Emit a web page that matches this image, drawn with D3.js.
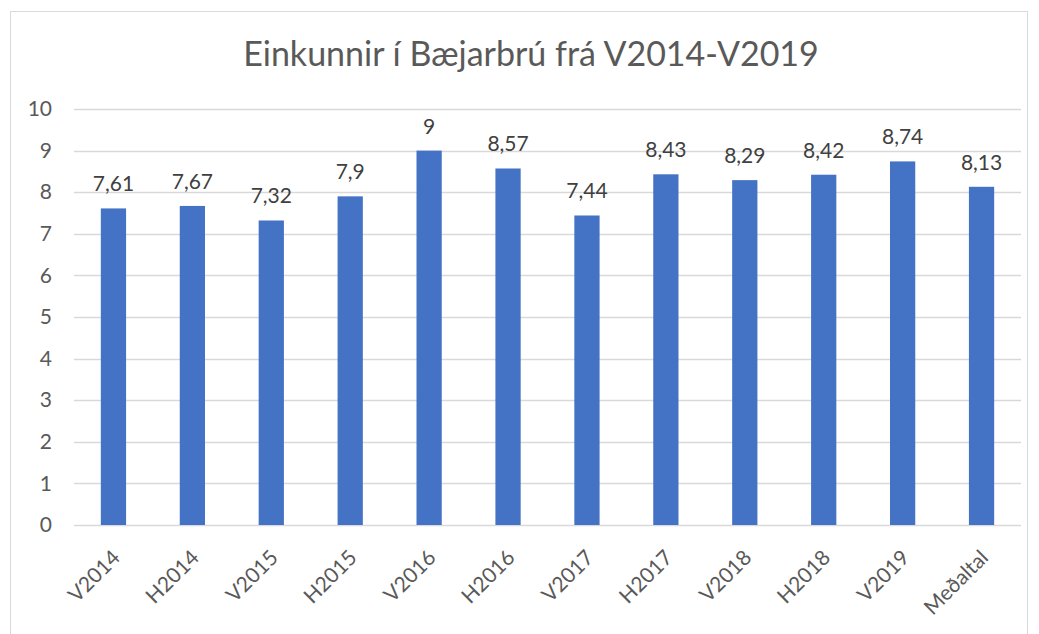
<!DOCTYPE html>
<html>
<head>
<meta charset="utf-8">
<script src="https://cdn.jsdelivr.net/npm/d3@7"></script>
<style>
  body { margin: 0; background: #fff; }
  svg { display: block; font-family: Lato, "Open Sans", sans-serif; }
</style>
</head>
<body>
<div id="chart"></div>
<script>
const categories = ["V2014", "H2014", "V2015", "H2015", "V2016", "H2016", "V2017", "H2017", "V2018", "H2018", "V2019", "Meðaltal"];
const values = [7.61, 7.67, 7.32, 7.9, 9, 8.57, 7.44, 8.43, 8.29, 8.42, 8.74, 8.13];
const y_ticks = [0, 1, 2, 3, 4, 5, 6, 7, 8, 9, 10];
const title_text = "Einkunnir í Bæjarbrú frá V2014-V2019";

const width = 1039, height = 634;
const plot = { left: 74, right: 1021, top: 109, bottom: 525 };
const font = "Lato, 'Open Sans', sans-serif";

const svg = d3.select("#chart").append("svg")
    .attr("width", width)
    .attr("height", height);

// chart frame
svg.append("rect")
    .attr("x", 10.5).attr("y", 11.5)
    .attr("width", 1017).attr("height", 640)
    .attr("fill", "#fff")
    .attr("stroke", "#d9d9d9");

svg.append("text")
    .attr("x", 531).attr("y", 66)
    .attr("text-anchor", "middle")
    .attr("font-size", 34)
    .attr("fill", "#595959")
    .text(title_text);

const x = d3.scaleBand()
    .domain(categories)
    .range([plot.left, plot.right])
    .paddingInner(0.68)
    .paddingOuter(0.34);

const y = d3.scaleLinear()
    .domain([0, 10])
    .range([plot.bottom, plot.top]);

// gridlines
svg.append("g")
    .selectAll("line")
    .data(y_ticks)
    .join("line")
    .attr("x1", plot.left).attr("x2", plot.right)
    .attr("y1", d => Math.round(y(d)) + 0.5)
    .attr("y2", d => Math.round(y(d)) + 0.5)
    .attr("stroke", "#d9d9d9")
    .attr("stroke-width", 1.3);

// y axis labels
const y_axis = svg.append("g")
    .attr("transform", `translate(${plot.left},0)`)
    .call(d3.axisLeft(y).tickValues(y_ticks).tickSize(0).tickPadding(22));
y_axis.select(".domain").remove();
y_axis.selectAll("text")
    .attr("font-size", 21)
    .attr("font-family", font)
    .attr("fill", "#595959");

// bars
svg.append("g")
    .selectAll("rect")
    .data(values)
    .join("rect")
    .attr("x", (d, i) => x(categories[i]))
    .attr("width", x.bandwidth())
    .attr("y", d => y(d))
    .attr("height", d => y(0) - y(d))
    .attr("fill", "#4472c4");

// data labels
svg.append("g")
    .selectAll("text")
    .data(values)
    .join("text")
    .attr("x", (d, i) => x(categories[i]) + x.bandwidth() / 2)
    .attr("y", d => y(d) - 17)
    .attr("text-anchor", "middle")
    .attr("font-size", 21)
    .attr("fill", "#404040")
    .text(d => String(d).replace(".", ","));

// x axis labels
const x_axis = svg.append("g")
    .attr("transform", `translate(0,${plot.bottom})`)
    .call(d3.axisBottom(x).tickSize(0).tickPadding(0));
x_axis.select(".domain").remove();
x_axis.selectAll("text")
    .attr("font-size", 21)
    .attr("font-family", font)
    .attr("fill", "#595959")
    .attr("text-anchor", "end")
    .attr("y", 0)
    .attr("dy", null)
    .attr("transform", "translate(8,34) rotate(-45)");
</script>
</body>
</html>
